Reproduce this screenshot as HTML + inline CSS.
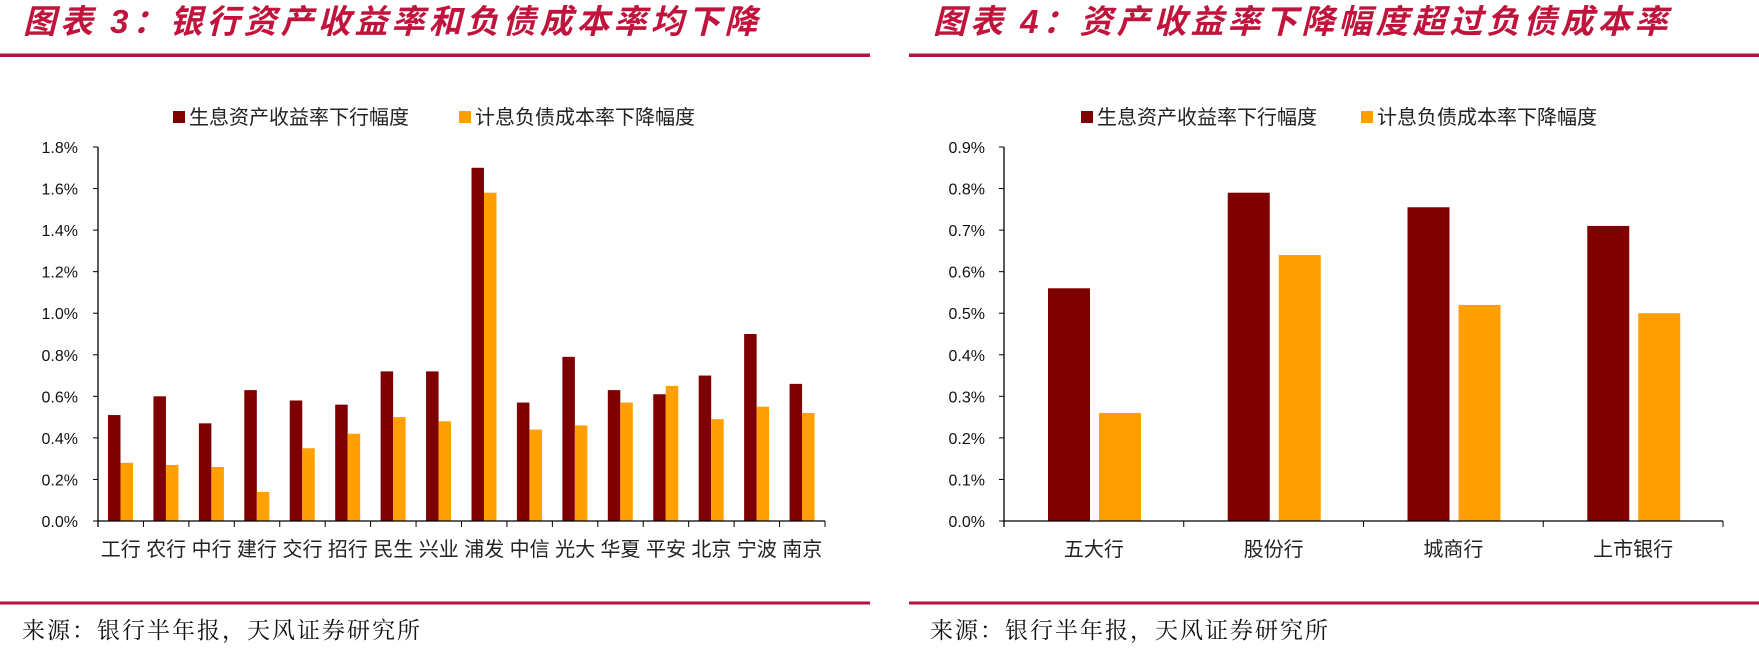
<!DOCTYPE html>
<html><head><meta charset="utf-8"><style>
body{margin:0;background:#fff;}
svg text{font-family:"Liberation Sans","Noto Sans CJK SC",sans-serif;}
.t{font-family:"Liberation Sans","Noto Sans CJK SC",sans-serif;font-style:italic;font-weight:bold;fill:#c0143c;font-size:33px;letter-spacing:4px;}
.s{font-family:"Liberation Serif","Noto Serif CJK SC",serif;font-size:23px;fill:#111;letter-spacing:2px;}
.tk{font-size:16px;fill:#111;}
.lg{font-size:20px;fill:#222;}
.cat{font-size:20px;fill:#222;}
</style></head><body>
<svg width="1759" height="651" xmlns="http://www.w3.org/2000/svg">
<text class="t" x="23" y="33">图表 3：银行资产收益率和负债成本率均下降</text>
<text class="t" x="933" y="33">图表 4：资产收益率下降幅度超过负债成本率</text>
<rect x="0" y="53.5" width="870" height="3.5" fill="#b5123f"/>
<rect x="909" y="53.5" width="850" height="3.5" fill="#b5123f"/>
<rect x="0" y="601.5" width="870" height="3" fill="#b5123f"/>
<rect x="909" y="601.5" width="850" height="3" fill="#b5123f"/>
<text class="s" x="22" y="638">来源：银行半年报，天风证券研究所</text>
<text class="s" x="930" y="638">来源：银行半年报，天风证券研究所</text>
<g id="c1"></g>
<g id="c2"></g>
</svg>
<script>
var NS="http://www.w3.org/2000/svg";
function el(p,n,a,t){var e=document.createElementNS(NS,n);for(var k in a)e.setAttribute(k,a[k]);if(t!=null)e.textContent=t;p.appendChild(e);return e;}
function chart(g,o){
 var y0=521,y1=147,ax=o.ax,xe=o.xe,n=o.cats.length,gw=(xe-ax)/n;
 el(g,"rect",{x:o.lx1,y:111,width:12,height:12,fill:"#7f0000"});
 el(g,"text",{x:o.lx1+16,y:124,"class":"lg"},"生息资产收益率下行幅度");
 el(g,"rect",{x:o.lx2,y:111,width:12,height:12,fill:"#ff9f00"});
 el(g,"text",{x:o.lx2+16,y:124,"class":"lg"},"计息负债成本率下降幅度");
 for(var i=0;i<=o.nt;i++){var v=i*o.step,y=y0-(y0-y1)*i/o.nt;
  el(g,"text",{x:o.tx,y:y+6,"text-anchor":"end","class":"tk"},v.toFixed(1)+"%");
  el(g,"line",{x1:ax-5,x2:ax,y1:y,y2:y,stroke:"#000","stroke-width":1});}
 var mx=o.step*o.nt;
 for(var j=0;j<n;j++){var gx=ax+j*gw;
  var h1=(y0-y1)*o.a[j]/mx,h2=(y0-y1)*o.b[j]/mx;
  el(g,"rect",{x:gx+o.off,y:y0-h1,width:o.bw,height:h1,fill:"#7f0000"});
  el(g,"rect",{x:gx+o.off+o.bw+o.gap,y:y0-h2,width:o.bw,height:h2,fill:"#ff9f00"});
  el(g,"text",{x:gx+gw/2,y:556,"text-anchor":"middle","class":"cat"},o.cats[j]);
  el(g,"line",{x1:gx+gw,x2:gx+gw,y1:y0,y2:y0+6,stroke:"#000","stroke-width":1});}
 el(g,"line",{x1:ax,x2:ax,y1:y1,y2:y0+6,stroke:"#000","stroke-width":1.3});
 el(g,"line",{x1:ax,x2:xe,y1:y0,y2:y0,stroke:"#000","stroke-width":1.3});
}
chart(document.getElementById("c1"),{ax:98,xe:825,tx:78,nt:9,step:0.2,off:10,bw:12.5,gap:0,lx1:173,lx2:459,
 cats:["工行","农行","中行","建行","交行","招行","民生","兴业","浦发","中信","光大","华夏","平安","北京","宁波","南京"],
 a:[.51,.60,.47,.63,.58,.56,.72,.72,1.70,.57,.79,.63,.61,.70,.90,.66],
 b:[.28,.27,.26,.14,.35,.42,.50,.48,1.58,.44,.46,.57,.65,.49,.55,.52]});
chart(document.getElementById("c2"),{ax:1004,xe:1723,tx:985,nt:9,step:0.1,off:44,bw:42,gap:9,lx1:1081,lx2:1361,
 cats:["五大行","股份行","城商行","上市银行"],
 a:[.56,.79,.755,.71],b:[.26,.64,.52,.50]});
</script>
</body></html>
